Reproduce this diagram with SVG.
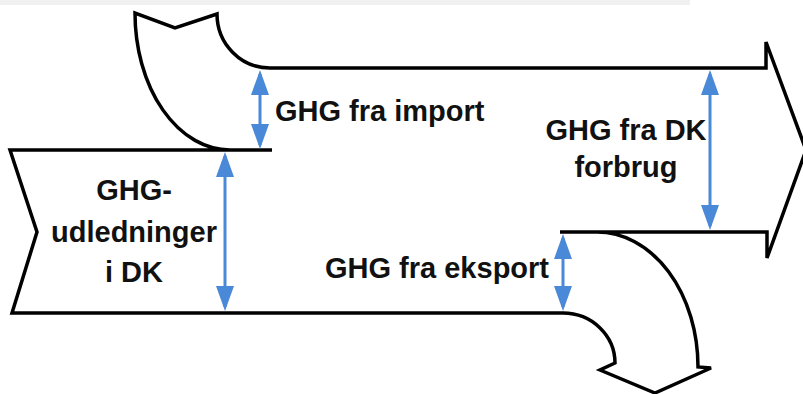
<svg xmlns="http://www.w3.org/2000/svg" width="803" height="394" viewBox="0 0 803 394">
  <style>
    .outline { fill: none; stroke: #000; stroke-width: 3.5; stroke-linejoin: miter; stroke-linecap: butt; }
    .label { font-family: "Liberation Sans", Arial, sans-serif; font-weight: bold; font-size: 29px; fill: #111; }
    .dim { stroke: #4a88d8; stroke-width: 3; fill: none; marker-start: url(#head); marker-end: url(#head); }
  </style>
  <defs>
    <marker id="head" markerUnits="userSpaceOnUse" viewBox="0 0 25 18" markerWidth="25" markerHeight="18" refX="21" refY="9" orient="auto-start-reverse">
      <path d="M0,0 L25,9 L0,18 z" fill="#4a88d8"/>
    </marker>
  </defs>
  <rect x="0" y="0" width="803" height="394" fill="#fff"/>
  <rect x="0" y="0" width="690" height="5" fill="#f1f1f1"/>

  <g id="flow-shape">
    <path class="outline" d="M10,150 L37,232 L12,313 L563,313 A52,50 0 0 1 615,363 L600,370 L655,393 L711,368 L698,367 A101,135 0 0 0 597,232 L767,232 L767,258 L806,150 L766,42 L766,68 L270,68 A53,54 0 0 1 217,14 L175,28 L135,13 A95,137 0 0 0 230,150 Z"/>
    <path class="outline" d="M230,150 L272,150 M560,232 L597,232"/>
  </g>

  <g id="label-dk">
    <text class="label" text-anchor="middle" x="134" y="200">GHG-</text>
    <text class="label" text-anchor="middle" x="134" y="242">udledninger</text>
    <text class="label" text-anchor="middle" x="134" y="282">i DK</text>
  </g>
  <g id="label-import">
    <text class="label" x="275" y="121">GHG fra import</text>
  </g>
  <g id="label-forbrug">
    <text class="label" text-anchor="middle" x="626" y="140">GHG fra DK</text>
    <text class="label" text-anchor="middle" x="626" y="177">forbrug</text>
  </g>
  <g id="label-eksport">
    <text class="label" x="325" y="278">GHG fra eksport</text>
  </g>

  <g id="connectors">
    <line class="dim" x1="260" y1="74" x2="260" y2="145"/>
    <line class="dim" x1="225" y1="156" x2="225" y2="307"/>
    <line class="dim" x1="710" y1="74" x2="710" y2="226"/>
    <line class="dim" x1="563" y1="238" x2="563" y2="307"/>
  </g>
</svg>
